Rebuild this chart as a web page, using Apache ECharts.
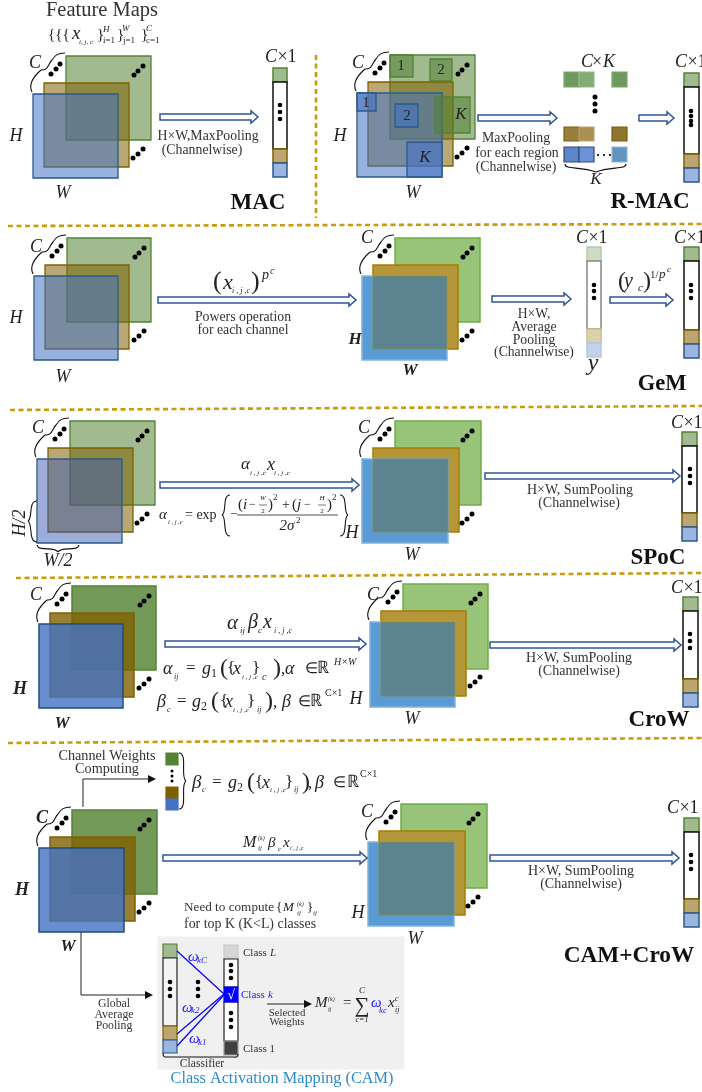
<!DOCTYPE html>
<html><head><meta charset="utf-8">
<script src="https://cdn.jsdelivr.net/npm/echarts@6/dist/echarts.min.js"></script>
<style>html,body{margin:0;padding:0;background:#fff}#c{width:702px;height:1092px}</style>
</head><body><div id="c"></div>
<script>
// feature-map stacks: blue-square left, top, right, bottom, look
const stacks=[
 [33,94,118,178,'light'],[357,93,442,177,'light'],[34,276,118,360,'light'],[362,276,447,360,'bright'],
 [37,459,122,543,'lightB'],[362,459,448,543,'bright'],[39,624,123,708,'dark'],[370,622,455,707,'bright'],
 [39,848,124,932,'dark'],[368,842,454,926,'bright']];
// output vectors: left, right, top, bottom, look
const vectors=[[273,287,68,177,'n'],[684,699,73,182,'n'],[587,601,247,357,'f'],[684,699,247,358,'n'],
 [682,697,432,541,'n'],[683,698,597,707,'n'],[684,699,818,927,'n']];
// hollow arrows: x start, x end, y
const arrows=[[160,258,117],[478,557,118],[639,674,118],[158,356,300],[492,571,299],[610,673,300],
 [160,359,485],[485,680,476],[165,366,644],[490,681,645],[163,367,858],[490,679,858]];
// dashed separators
const dashes=[[316,55,316,218],[8,226,702,224],[10,410,702,406],[16,578,702,573],[8,743,702,738]];
// small squares: x0,y0,x1,y1,fill,stroke
const G='rgba(84,130,53,.55)',B='rgba(68,114,196,.6)';
const regions=[[390,55,413,77,G,'#548235'],[430,59,452,81,G,'#548235'],[435,97,470,133,G,'#548235'],
 [357,93,376,111,B,'#2a5a8a'],[395,104,418,127,B,'#2a5a8a'],[407,142,442,177,B,'#2a5a8a']];
const ckGrid=[[564,72,579,87,'#6F9A5F','#7FA66E'],[579,72,594,87,'#85AA76','#97B98A'],[612,72,627,87,'#6F9A5F','#7FA66E'],
 [564,127,579,141,'#98803C','#7F6000'],[579,127,594,141,'#A89050','#BBA672'],[612,127,627,141,'#8F7630','#7F6000'],
 [564,147,579,162,'#5E85CC','#2F4F70'],[579,147,594,162,'#6E92D8','#2F4F70'],[612,147,627,162,'#6494BE','#8DB8DC']];
const camRects=[[166,753,178,765,'#548235','#548235'],[166,787,178,799,'#7F6000','#7F6000'],[166,799,178,810,'#4472C4','#4472C4'],
 [163,944,177,958,'#A1BA90','#548235'],[163,958,177,1026,'#F4F4F4','#222'],[163,1026,177,1040,'#BBA672','#7F6000'],[163,1040,177,1053,'#9CB4E0','#2A5A8A'],
 [224,945,238,959,'#D6D6D6','#C8C8C8'],[224,959,238,987,'#FFFFFF','#222'],[224,1002,238,1041,'#FFFFFF','#222'],[224,987,238,1002,'#0000FF','#0000FF'],[224,1041,238,1055,'#404040','#999']];
const panel=[[158,937,404,1069,'#F0F0F0','#F0F0F0']];
// free dots: x,y,r
const dots=[[280,105,2.3],[280,112,2.3],[280,119,2.3],[691,111,2.3],[691,116,2.3],[691,121,2.3],[691,125,2.3],
 [595,97,2.5],[595,104,2.5],[595,111,2.5],[598,155,1.1],[604,155,1.1],[610,155,1.1],
 [594,285,2.3],[594,291,2.3],[594,298,2.3],[691,285,2.3],[691,291,2.3],[691,298,2.3],
 [690,469,2.3],[690,476,2.3],[690,483,2.3],[690,634,2.3],[690,641,2.3],[690,648,2.3],
 [691,855,2.3],[691,862,2.3],[691,869,2.3],[172,771,1.5],[172,776,1.5],[172,781,1.5],
 [170,982,2.3],[170,989,2.3],[170,996,2.3],[198,982,2.3],[198,989,2.3],[198,996,2.3],
 [231,965,2.3],[231,971,2.3],[231,978,2.3],[231,1013,2.3],[231,1020,2.3],[231,1027,2.3]];
// straight lines: x1,y1,x2,y2,colour,width
const lines=[[237,515,338,515,'#222',.8],[259,505,267,505,'#222',.6],[318,505,326,505,'#222',.6],
 [83,807,83,779,'#222',1],[83,779,150,779,'#222',1],[81,932,81,995,'#222',1],[81,995,146,995,'#222',1],[267,1004,306,1004,'#222',1],
 [177,951,224,994,'#0000FF',1.2],[177,1034,224,994,'#0000FF',1.2],[177,1046,224,995,'#0000FF',1.2]];
// solid arrowheads: tip x, y
const heads=[[156,779],[153,995],[312,1004]];
// braces as cubic segments: x1,y1,cx1,cy1,cx2,cy2,x2,y2
const braces=[
 [565,164,565,170,580,166,596,172],[596,172,610,166,626,170,626,164],
 [37,501,28,501,33,518,28,521],[28,521,33,524,28,542,37,542],
 [37,545,38,552,55,546,58,552],[58,552,61,546,78,552,79,545],
 [179,753,188,753,180,778,186,781],[186,781,180,784,188,809,179,809],
 [163,1053,163,1058,165,1057,170,1057],[170,1057,190,1057,220,1057,232,1057],[232,1057,236,1057,238,1058,238,1054],
 [230,495,222,495,227,513,222,515],[222,515,227,517,222,536,230,536],
 [340,495,348,495,343,513,348,515],[348,515,343,517,348,536,340,536]];
// axis-style letters for each stack: x,y,text,flags,size
const letters=[
 [35,63,'C','i',18],[16,136,'H','i',18],[63,193,'W','i',18],[358,63,'C','i',18],[340,136,'H','i',18],[413,193,'W','i',18],
 [36,247,'C','i',18],[16,318,'H','i',18],[63,377,'W','i',18],[367,238,'C','i',18],[355,340,'H','bi',17],[410,371,'W','bi',17],
 [38,428,'C','i',18],[364,428,'C','i',18],[352,533,'H','i',18],[412,555,'W','i',18],
 [36,595,'C','i',18],[20,689,'H','bi',18],[62,724,'W','bi',17],[373,595,'C','i',18],[356,699,'H','i',18],[412,719,'W','i',18],
 [42,818,'C','bi',18],[22,890,'H','bi',18],[68,947,'W','bi',17],[367,812,'C','i',18],[358,913,'H','i',18],[415,939,'W','i',18]];
const vecLabels=[[280,57],[690,62],[591,238],[689,238],[686,423],[686,588],[682,808]];
const titles=[[258,203,'MAC',23],[650,202,'R-MAC',23],[662,384,'GeM',22.5],[658,558,'SPoC',23],[659,720,'CroW',23],[629,956,'CAM+CroW',23.3]];
// plain captions: x,y,text,size
const captions=[
 [102,11,'Feature Maps',20.5],[208,136,'H×W,MaxPooling',13.8],[202,150,'(Channelwise)',13.8],
 [516,138,'MaxPooling',13.8],[517,153,'for each region',13.8],[516,167,'(Channelwise)',13.8],
 [243,317,'Powers operation',13.8],[243,330,'for each channel',13.8],
 [534,314,'H×W,',13.7],[534,327,'Average',13.7],[534,340,'Pooling',13.7],[534,352,'(Channelwise)',13.7],
 [580,490,'H×W, SumPooling',14],[579,503,'(Channelwise)',14],[579,658,'H×W, SumPooling',14],[579,671,'(Channelwise)',14],
 [581,871,'H×W, SumPooling',14],[581,884,'(Channelwise)',14],[107,756,'Channel Weights',14.2],[107,769,'Computing',14.2],
 [114,1004,'Global',11.8],[114,1015,'Average',11.8],[114,1026,'Pooling',11.8],[287,1013,'Selected',10.8],[287,1022,'Weights',10.8],[202,1064,'Classifier',11.6]];
// math and other positioned pieces: x,y,text,size,flags (i italic, b bold, l left anchored, r rotated), colour
const M='#222',BL='#1a1aff';
const pieces=[
 [48,35,'{{{',15,'l'],[72,34,'x',19,'il'],[79,42,'i, j, c',7,'il'],[97,35,'}',15,'l'],[103,30,'H',9,'il'],[103,41,'i=1',9,'l'],
 [117,35,'}',15,'l'],[122,29,'W',9,'il'],[123,41,'j=1',9,'l'],[141,35,'}',15,'l'],[146,29,'C',9,'il'],[146,41,'c=1',9,'l'],
 [401,66,'1',15,''],[441,70,'2',15,''],[461,115,'K',17,'i'],[366,103,'1',14,''],[407,116,'2',15,''],[425,158,'K',17,'i'],
 [587,62,'C',18,'i'],[597,62,'×',18,''],[609,62,'K',18,'i'],[596,180,'K',17,'i'],
 [213,282,'(',26,'l'],[223,283,'x',22,'il'],[232,291,'i , j ,c',8,'il'],[251,282,')',26,'l'],[262,275,'p',14,'il'],[270,271,'c',10,'il'],
 [593,364,'y',24,'i'],[618,282,'(',24,'l'],[624,282,'y',20,'il'],[638,288,'c',11,'il'],[643,282,')',24,'l'],[650,275,'1/',11,'l'],[659,275,'p',13,'il'],[667,270,'c',9,'il'],
 [20,523,'H/2',18,'ir'],[58,561,'W/2',18,'i'],
 [241,465,'α',17,'il'],[250,473,'i , j ,c',7,'il'],[267,465,'x',18,'il'],[274,473,'i , j ,c',7,'il'],
 [159,515,'α',15,'il'],[168,522,'i , j ,c',6.5,'il'],[185,515,'= exp',14,'l'],[230,515,'−',13,'l'],
 [238,505,'(',15,'l'],[243,505,'i',15,'il'],[249,505,'−',12,'l'],[263,498,'W',7,'i'],[263,511,'2',7,''],[268,505,')',15,'l'],[273,498,'2',9,'l'],
 [286,505,'+',14,'c'],[292,505,'(',15,'l'],[297,505,'j',15,'il'],[304,505,'−',12,'l'],[322,498,'H',7,'i'],[322,511,'2',7,''],[327,505,')',15,'l'],[332,498,'2',9,'l'],
 [287,526,'2σ',15,'i'],[296,521,'2',9,'l'],
 [227,623,'α',21,'il'],[240,631,'ij',9,'il'],[248,623,'β',20,'il'],[258,631,'c',9,'il'],[263,623,'x',20,'il'],[274,631,'i , j ,c',8,'il'],
 [163,669,'α',18,'il'],[174,677,'ij',8,'il'],[186,669,'=',17,'l'],[202,669,'g',18,'il'],[211,674,'1',12,'l'],[220,669,'(',24,'l'],[227,669,'{',17,'l'],[233,669,'x',18,'il'],[242,677,'i , j ,c',7,'il'],[252,669,'}',17,'l'],[262,677,'c',10,'il'],[273,669,')',24,'l'],[281,670,',',17,'l'],[285,669,'α',18,'il'],[305,669,'∈',15,'l'],[317,669,'ℝ',17,'l'],[334,662,'H×W',10,'il'],
 [157,702,'β',18,'il'],[167,710,'c',8,'il'],[177,702,'=',17,'l'],[192,702,'g',18,'il'],[201,707,'2',12,'l'],[211,702,'(',24,'l'],[220,702,'{',17,'l'],[225,702,'x',18,'il'],[233,710,'i , j ,c',7,'il'],[247,702,'}',17,'l'],[257,710,'ij',8,'il'],[265,702,')',24,'l'],[273,703,',',17,'l'],[282,702,'β',18,'il'],[298,702,'∈',15,'l'],[310,702,'ℝ',17,'l'],[325,693,'C×1',10,'l'],
 [192,783,'β',19,'il'],[202,790,'c',8,'il'],[212,783,'=',17,'l'],[228,783,'g',18,'il'],[237,788,'2',12,'l'],[247,783,'(',24,'l'],[255,783,'{',17,'l'],[262,783,'x',18,'il'],[270,790,'i , j ,c',7,'il'],[285,783,'}',17,'l'],[294,790,'ij',8,'il'],[302,783,')',24,'l'],[308,784,',',17,'l'],[315,783,'β',18,'il'],[333,783,'∈',15,'l'],[347,783,'ℝ',17,'l'],[360,774,'C×1',10,'l'],
 [243,843,'M',16,'il'],[258,838,'(k)',6,'il'],[258,848,'ij',7,'il'],[268,843,'β',15,'il'],[278,849,'c',7,'il'],[283,843,'x',15,'il'],[290,848,'i , j ,c',6,'il'],
 [184,908,'Need to compute',13.2,'l','#333'],[276,908,'{',13,'l'],[283,908,'M',13,'il'],[297,904,'(k)',6,'il'],[297,913,'ij',7,'il'],[307,908,'}',13,'l'],[313,913,'ij',7,'il'],[184,924,'for top K (K<L) classes',13.9,'l','#333'],
 [243,953,'Class ',11,'l','#333'],[270,953,'L',11,'il','#333'],[241,995,'Class ',11,'l',BL],[268,995,'k',11,'il',BL],[243,1049,'Class 1',11,'l','#333'],[231,995,'√',14,'','#fff'],
 [188,957,'ω',15,'il',BL],[197,961,'kC',9,'il',BL],[182,1008,'ω',15,'il',BL],[191,1011,'k2',9,'il',BL],[189,1039,'ω',15,'il',BL],[198,1043,'k1',9,'il',BL],
 [315,1003,'M',15,'il'],[328,999,'(k)',6,'il'],[328,1009,'ij',6,'il'],[343,1003,'=',15,'l'],[362,1006,'∑',21,''],[362,991,'C',9,'i'],[362,1020,'c=1',8,'i'],
 [371,1003,'ω',15,'il',BL],[379,1011,'kc',9,'il',BL],[388,1003,'x',15,'il'],[395,999,'c',8,'il'],[395,1010,'ij',8,'il'],
 [282,1079,'Class Activation Mapping (CAM)',16.3,'','#2E8BC9']];

const looks={
 light:{g:['rgba(84,130,53,.55)','#548235',1.3],t:['rgba(127,96,0,.55)','#7F6000',1.3],b:['rgba(68,114,196,.55)','#2A5A8A',1.3]},
 lightB:{g:['rgba(84,130,53,.55)','#548235',1.3],t:['rgba(127,96,0,.55)','#7F6000',1.3],b:['rgba(60,90,180,.5)','#2A5A8A',1.3]},
 dark:{g:['rgba(84,130,53,.82)','#548235',1.5],t:['rgba(127,96,0,.8)','#7F6000',1.5],b:['rgba(68,114,196,.8)','#1F4E79',1.5]},
 bright:{g:['#98C47A','#70AD47',1.5],t:['#B5973A','#A67C00',1.5],b:['#5B9BD5','#7FB5E0',1.5],o:['#5C8490','#7F8A50']}
};
const rectRows=[];
panel.forEach(r=>rectRows.push([...r,1]));
stacks.forEach(([x0,y0,x1,y1,k])=>{const L=looks[k];
 rectRows.push([x0+33,y0-38,x1+33,y1-38,...L.g]);
 rectRows.push([x0+11,y0-11,x1+11,y1-11,...L.t]);
 rectRows.push([x0,y0,x1,y1,...L.b]);
 if(L.o){rectRows.push([x0+11,y0,x1,y1-11,L.o[0],L.o[1],1]);}
});
regions.forEach(r=>rectRows.push([...r,1.3]));
ckGrid.forEach(r=>rectRows.push([...r,1.2]));
const vecLook={n:[['#A1BA90','#548235'],['#FFF','#111'],['#BBA672','#7F6000'],['#9CB4E0','#2A5A8A']],
 f:[['#CEDBC3','#B5C9A6'],['#FFF','#888'],['#DCD1AE','#CBBD90'],['#C3D3ED','#B5C8E6']]};
vectors.forEach(([a,b,t,u,k])=>{const c=vecLook[k];
 rectRows.push([a,t,b,t+14,c[0][0],c[0][1],1.5]);
 rectRows.push([a,t+14,b,u-28,c[1][0],c[1][1],1.5]);
 rectRows.push([a,u-28,b,u-14,c[2][0],c[2][1],1.5]);
 rectRows.push([a,u-14,b,u,c[3][0],c[3][1],1.5]);});
camRects.forEach(r=>rectRows.push([...r,1.2]));
const dotRows=dots.slice();
const braceRows=braces.slice();
stacks.forEach(([x,y])=>{
 [[18,-20],[23,-25],[27,-30],[101,-19],[105,-23],[110,-28],[100,64],[105,60],[110,55]].forEach(o=>dotRows.push([x+o[0],y+o[1],2.5]));
 [[-1,-2,-5,-10,0,-17,8,-24],[8,-24,16,-24,15,-30,19,-34],[19,-34,22,-39,25,-41,32,-41]].forEach(s=>
   braceRows.push(s.map((v,i)=>v+(i%2?y:x))));
});
const textRows=[];
letters.forEach(l=>textRows.push([l[0],l[1],l[2],l[4],l[3]]));
vecLabels.forEach(v=>{textRows.push([v[0]-9,v[1],'C',18,'i']);textRows.push([v[0]+7,v[1],'×1',18,'']);});
titles.forEach(t=>textRows.push([t[0],t[1],t[2],t[3],'b','#111']));
captions.forEach(c=>textRows.push([c[0],c[1],c[2],c[3],'','#333']));
pieces.forEach(p=>textRows.push(p));

const FF='"Liberation Serif","Times New Roman",serif';
function rectSeries(rows){return {type:'custom',clip:false,silent:true,data:rows.map(r=>r.slice(0,4)),
 renderItem(p,api){const r=rows[p.dataIndex],a=api.coord([r[0],r[1]]),b=api.coord([r[2],r[3]]);
  return {type:'rect',shape:{x:a[0],y:a[1],width:b[0]-a[0],height:b[1]-a[1]},style:{fill:r[4],stroke:r[5],lineWidth:r[6]}};}};}
const series=[rectSeries(rectRows)];
series.push({type:'custom',clip:false,silent:true,data:dashes,renderItem(p,api){const r=dashes[p.dataIndex],a=api.coord([r[0],r[1]]),b=api.coord([r[2],r[3]]);
 return {type:'line',shape:{x1:a[0],y1:a[1],x2:b[0],y2:b[1]},style:{stroke:'#C99A0C',lineWidth:2.6,lineDash:[5,3.5]}};}});
series.push({type:'custom',clip:false,silent:true,data:lines.map(r=>r.slice(0,4)),renderItem(p,api){const r=lines[p.dataIndex],a=api.coord([r[0],r[1]]),b=api.coord([r[2],r[3]]);
 return {type:'line',shape:{x1:a[0],y1:a[1],x2:b[0],y2:b[1]},style:{stroke:r[4],lineWidth:r[5]}};}});
series.push({type:'custom',clip:false,silent:true,data:arrows,renderItem(p,api){const r=arrows[p.dataIndex];
 const pts=[[r[0],r[2]-3],[r[1]-7,r[2]-3],[r[1]-7,r[2]-6],[r[1],r[2]],[r[1]-7,r[2]+6],[r[1]-7,r[2]+3],[r[0],r[2]+3]].map(q=>api.coord(q));
 return {type:'polygon',shape:{points:pts},style:{fill:'#fff',stroke:'#2F5597',lineWidth:1.5}};}});
series.push({type:'custom',clip:false,silent:true,data:heads,renderItem(p,api){const r=heads[p.dataIndex];
 const pts=[[r[0],r[1]],[r[0]-8,r[1]-4],[r[0]-8,r[1]+4]].map(q=>api.coord(q));
 return {type:'polygon',shape:{points:pts},style:{fill:'#111'}};}});
series.push({type:'custom',clip:false,silent:true,data:braceRows,renderItem(p,api){const r=braceRows[p.dataIndex];
 const a=api.coord([r[0],r[1]]),c=api.coord([r[2],r[3]]),d=api.coord([r[4],r[5]]),b=api.coord([r[6],r[7]]);
 return {type:'bezierCurve',shape:{x1:a[0],y1:a[1],cpx1:c[0],cpy1:c[1],cpx2:d[0],cpy2:d[1],x2:b[0],y2:b[1]},style:{fill:null,stroke:'#111',lineWidth:1.1}};}});
series.push({type:'custom',clip:false,silent:true,data:dotRows,renderItem(p,api){const r=dotRows[p.dataIndex],a=api.coord([r[0],r[1]]);
 return {type:'circle',shape:{cx:a[0],cy:a[1],r:r[2]},style:{fill:'#000'}};}});
series.push({type:'custom',clip:false,silent:true,data:textRows.map(r=>[r[0],r[1]]),renderItem(p,api){const r=textRows[p.dataIndex],a=api.coord([r[0],r[1]]),f=r[4]||'';
 return {type:'text',x:a[0],y:a[1],rotation:f.includes('r')?Math.PI/2:0,style:{text:r[2],fontSize:r[3],fontFamily:FF,fontStyle:f.includes('i')?'italic':'normal',fontWeight:f.includes('b')?'bold':'normal',
  fill:r[5]||M,align:f.includes('l')?'left':'center',verticalAlign:'middle'}};}});

const chart=echarts.init(document.getElementById('c'),null,{renderer:'canvas'});
chart.setOption({animation:false,backgroundColor:'#fff',
 grid:{left:0,right:0,top:0,bottom:0},
 xAxis:{type:'value',min:0,max:702,show:false},
 yAxis:{type:'value',min:0,max:1092,inverse:true,show:false},
 series});
</script></body></html>
